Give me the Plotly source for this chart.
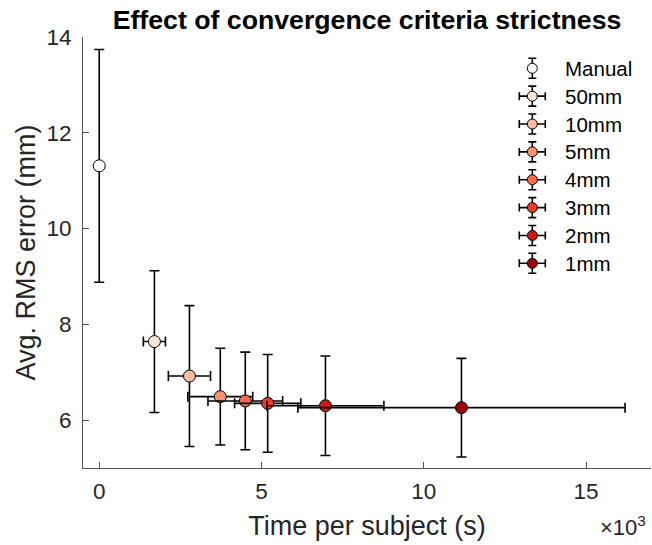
import plotly.graph_objects as go

# ---- data ----
labels = ['Manual', '50mm', '10mm', '5mm', '4mm', '3mm', '2mm', '1mm']
time_s = [0, 1700, 2780, 3730, 4500, 5190, 6970, 11160]          # seconds
time_err = [0, 340, 650, 1000, 1150, 1020, 1800, 5040]           # seconds
rms_mm = [11.31, 7.64, 6.92, 6.49, 6.40, 6.35, 6.30, 6.26]
rms_err = [2.43, 1.48, 1.47, 1.01, 1.02, 1.02, 1.04, 1.03]
colors = ['#ffffff', '#fee5d9', '#fcbba1', '#fc9272', '#fb6a4a', '#ef3b2c', '#cb181d', '#99000d']

x_ticks = [0, 5000, 10000, 15000]
x_tick_text = ['0', '5', '10', '15']
y_ticks = [6, 8, 10, 12, 14]

FONT = 'Liberation Sans, Arial, Helvetica, sans-serif'
AX = '#262626'
W, H = 652, 545
L, R, T, B = 83, 1, 37, 77
pw, ph = W - L - R, H - T - B

fig = go.Figure()

for i, lab in enumerate(labels):
    fig.add_trace(go.Scatter(
        x=[time_s[i]], y=[rms_mm[i]], mode='markers', name=lab,
        showlegend=False,
        marker=dict(size=12, color=colors[i], line=dict(color='black', width=1)),
        error_y=dict(type='data', array=[rms_err[i]], color='black', thickness=1.6, width=5),
        error_x=dict(type='data', array=[time_err[i]], color='black', thickness=1.6, width=5,
                     visible=(time_err[i] > 0)),
        xaxis='x', yaxis='y'))

# ---- custom legend (glyphs with error bars) on an invisible overlay axis ----
leg_x_px = 532.3 - L          # legend glyph column (pixels from plot left)
leg_top_px = 68.3 - T          # first entry (pixels from plot top)
leg_step = 27.86               # pixels per entry
y2_top = -leg_top_px / leg_step
y2_bot = (ph - leg_top_px) / leg_step
for i, lab in enumerate(labels):
    fig.add_trace(go.Scatter(
        x=[0], y=[i], mode='markers', showlegend=False, hoverinfo='skip',
        marker=dict(size=10, color=colors[i], line=dict(color='black', width=1)),
        error_y=dict(type='constant', value=10 / leg_step, color='black', thickness=1.6, width=4),
        error_x=dict(type='constant', value=13, color='black', thickness=1.6, width=4,
                     visible=(i > 0)),
        xaxis='x2', yaxis='y2'))
    fig.add_annotation(x=30.5, y=i, xref='x2', yref='y2', text=lab, showarrow=False,
                       xanchor='left', yanchor='middle',
                       font=dict(family=FONT, size=20.5, color='black'))

fig.update_layout(
    width=W, height=H, autosize=False,
    margin=dict(l=L, r=R, t=T, b=B, pad=0),
    paper_bgcolor='white', plot_bgcolor='white',
    font=dict(family=FONT, color=AX),
    title=dict(text='<b>Effect of convergence criteria strictness</b>',
               x=0.5, xref='paper', xanchor='center',
               y=1 - 20 / H, yref='container', yanchor='middle',
               font=dict(family=FONT, size=26.7, color='black')),
    xaxis=dict(range=[-500, 17000], tickvals=x_ticks, ticktext=x_tick_text,
               showgrid=False, zeroline=False, showline=True, linecolor='#555555', linewidth=1,
               ticks='inside', ticklen=6, tickcolor='#555555', mirror=False,
               tickfont=dict(size=22.5, color=AX), ticklabelstandoff=3,
               title=dict(text='Time per subject (s)', font=dict(size=27, color=AX), standoff=13)),
    yaxis=dict(range=[5, 14], tickvals=y_ticks,
               showgrid=False, zeroline=False, showline=True, linecolor='#555555', linewidth=1,
               ticks='inside', ticklen=6, tickcolor='#555555', mirror=False,
               tickfont=dict(size=22.5, color=AX), ticklabelstandoff=6,
               title=dict(text='Avg. RMS error (mm)', font=dict(size=27, color=AX), standoff=3)),
    xaxis2=dict(overlaying='x', range=[-leg_x_px, pw - leg_x_px], visible=False, fixedrange=True),
    yaxis2=dict(overlaying='y', anchor='x2', range=[y2_bot, y2_top], visible=False, fixedrange=True),
)

fig.add_annotation(text='×10<sup>3</sup>', xref='paper', yref='paper',
                   x=(647 - L) / pw, y=-(526 - (H - B)) / ph, xanchor='right', yanchor='middle',
                   showarrow=False, borderpad=0, font=dict(family=FONT, size=22, color=AX))

fig.write_html('out.html')
